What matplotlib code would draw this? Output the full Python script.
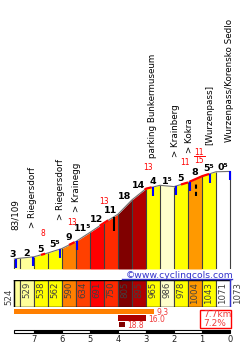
import numpy as np
import matplotlib.pyplot as plt
from matplotlib.patches import Rectangle
from matplotlib.lines import Line2D
from matplotlib.transforms import offset_copy

# profile: distance to the top (km) and altitude (m)
dist = [7.7, 7.5, 7.0, 6.5, 6.0, 5.5, 5.0, 4.5, 4.0, 3.5, 3.0, 2.5, 2.0, 1.5, 1.0, 0.5, 0.0]
alt = [524, 529, 538, 562, 590, 634, 691, 750, 805, 895, 965, 986, 978, 1004, 1043, 1071, 1073]
grad_labels = ["3", "2", "5", "5⁵", "9", "11⁵", "12", "11", "18", "14", "4", "1⁵", "5", "8", "5⁵", "0⁵"]
seg_colors = ["#FFFF99", "#FFFF99", "#FFFF00", "#FFFF00", "#FF8000", "#FF4000", "#FF0000", "#FF2A00",
              "#800000", "#B00000", "#FFFF00", "#FFFFCC", "#FFFF00", "#FF9900", "#FFFF00", "#FFFFFF"]

# places along the climb
places = ["83/109", "> Riegersdorf", "> Riegersdorf", "> Krainegg", "parking Bunkermuseum",
          "> Krainberg", "> Kokra", "[Wurzenpass]", "Wurzenpass/Korensko Sedlo"]
place_km = [7.65, 7.05, 6.07, 5.47, 2.75, 1.94, 1.43, 0.71, 0.0]

# steepest 100 m spots
steep_from = [6.75, 5.75, 4.65, 3.05, 1.75, 1.45]
steep_to = [6.6, 5.55, 4.35, 2.8, 1.5, 0.75]
steep_max = ["8", "13", "13", "13", "11", "11/15"]

# steepest 5 km / 1 km / 200 m
best_from = [7.7, 4.0, 3.95]
best_len = [5.0, 1.0, 0.2]
best_grad = [9.3, 16.0, 18.8]
best_colors = ["#FF7F00", "#AA0000", "#800000"]

total_km = 7.7
avg_grad = 7.2
km_marks = [7, 6, 5, 4, 3, 2, 1, 0]

W, H = 245, 347
XLIM = (8.214, -0.536)
base = 461.3
m_per_px = 6.27

fig = plt.figure(figsize=(W / 100, H / 100), dpi=100)
fig.patch.set_facecolor("white")

# ---------- profile ----------
ax = fig.add_axes([0, 78 / H, 1, 269 / H])
ax.set_xlim(*XLIM)
ax.set_ylim(base, base + 269 * m_per_px)
ax.axis("off")

d_inc = dist[::-1]
a_inc = alt[::-1]


def elev(k):
    return np.interp(k, d_inc, a_inc)


for i in range(len(dist) - 1):
    ax.fill_between([dist[i], dist[i + 1]], [alt[i], alt[i + 1]], base,
                    color=seg_colors[i], lw=0)
ax.vlines(dist, base, alt, color="#404040", lw=0.8)
ax.plot(dist, alt, color="#707070", lw=0.8)

for i, lab in enumerate(grad_labels):
    ax.annotate(lab, xy=(dist[i + 1] + 0.25, max(alt[i], alt[i + 1])), xytext=(0, 1),
                textcoords="offset pixels", ha="center", va="baseline",
                fontsize=6.8, fontweight="bold", color="black",
                family=["DejaVu Sans"])

# steep spots
for a, b, lab in zip(steep_from, steep_to, steep_max):
    xs = np.linspace(a, b, 10)
    ax.plot(xs, elev(xs), color="#FF0000", lw=1.6, solid_capstyle="butt")
    mid = (a + b) / 2
    e = elev(mid)
    if "/" in lab:
        top, bot = lab.split("/")
        ax.annotate(top, xy=(mid, e), xytext=(0, 25), textcoords="offset pixels",
                    ha="center", va="center", fontsize=5.5, color="#FF0000")
        ax.annotate(bot, xy=(mid, e), xytext=(0, 17), textcoords="offset pixels",
                    ha="center", va="center", fontsize=5.5, color="#FF0000")
        tr = offset_copy(ax.transData, fig=fig, x=0, y=21, units="dots")
        ax.plot([mid + 0.2, mid - 0.2], [e, e], transform=tr, color="#FF0000", lw=0.7)
    else:
        ax.annotate(lab, xy=(mid, e), xytext=(0, 21), textcoords="offset pixels",
                    ha="center", va="center", fontsize=5.5, color="#FF0000")

# place markers and names
for k, name in zip(place_km, places):
    e = elev(k)
    ax.vlines(k, e - 9 * m_per_px, e, color="#0000FF", lw=1.5)
    ax.annotate(name, xy=(k, e), xytext=(0, 29), textcoords="offset pixels",
                rotation=90, ha="center", va="bottom", fontsize=6.3, color="black")

# other markers
e = elev(4.15)
ax.vlines(4.15, e - 14 * m_per_px, e, color="black", lw=1.5)
e = elev(1.2)
ax.vlines(1.2, e - 17 * m_per_px, e - 4 * m_per_px, color="black", lw=1.5,
          linestyles=(0, (2, 1.5)))

# ---------- altitude strip ----------
axs = fig.add_axes([0, 40 / H, 1, 27 / H])
axs.set_xlim(*XLIM)
axs.set_ylim(0, 1)
axs.axis("off")
for i in range(len(dist) - 1):
    axs.bar((dist[i] + dist[i + 1]) / 2, 1, width=dist[i] - dist[i + 1],
            color=seg_colors[i], edgecolor="#404040", lw=0.8)
    if i > 0:
        axs.text((dist[i] + dist[i + 1]) / 2, 0.94, str(alt[i]), rotation=90,
                 ha="center", va="top", fontsize=6.2, color="#404040")
axs.plot([dist[0], dist[-1]], [1, 1], color="black", lw=1.0)
axs.plot([dist[0], dist[-1]], [0, 0], color="black", lw=1.0)
axs.plot([dist[0], dist[0]], [0, 1], color="black", lw=1.0)
axs.plot([dist[-1], dist[-1]], [0, 1], color="#3333CC", lw=1.0)
axs.annotate(str(alt[0]), xy=(dist[0], 0), xytext=(-6, 2), textcoords="offset pixels",
             rotation=90, ha="center", va="bottom", fontsize=6.2, color="#404040")
axs.annotate(str(alt[-1]), xy=(dist[-1], 1), xytext=(8, -2), textcoords="offset pixels",
             rotation=90, ha="center", va="top", fontsize=6.2, color="#404040")

fig.text(126 / W, 1 - 275 / H, "©www.cyclingcols.com", ha="left", va="center",
         fontsize=6.7, color="#3333CC")
fig.add_artist(Line2D([122 / W, 232 / W], [1 - 279 / H, 1 - 279 / H],
                      color="#3333CC", lw=1.0, transform=fig.transFigure))

# ---------- steepest parts ----------
axb = fig.add_axes([0, 19 / H, 1, 20 / H])
axb.set_xlim(*XLIM)
axb.set_ylim(2.55, -0.55)
axb.axis("off")
rows = np.arange(len(best_grad))
axb.barh(rows, [-l for l in best_len], left=best_from, height=0.8, color=best_colors)
for r, s, l, g in zip(rows, best_from, best_len, best_grad):
    axb.annotate(f"{g:.1f}", xy=(s - l, r), xytext=(2, 0.5 - r * 0.5), textcoords="offset pixels",
                 ha="left", va="center_baseline", fontsize=5.5, color="#F03C3C")

fig.add_artist(Rectangle((200 / W, 1 - 328 / H), 31 / W, 18 / H, fill=False,
                         edgecolor="#FF0000", lw=1.0, transform=fig.transFigure))
fig.text(203 / W, 1 - 319 / H, f"{total_km}km\n{avg_grad}%", ha="left", va="center",
         fontsize=6.5, color="#F03C3C", linespacing=1.0)

# ---------- km scale ----------
axk = fig.add_axes([0, 0, 1, 18 / H])
axk.set_xlim(*XLIM)
axk.set_ylim(18, 0)
axk.axis("off")
edges = [dist[0]] + km_marks
for i in range(len(edges) - 1):
    axk.barh(2.7, edges[i + 1] - edges[i], left=edges[i], height=3,
             color="white" if i % 2 == 0 else "black", edgecolor="black", lw=0.8)
for k in km_marks:
    axk.text(k, 11, str(k), ha="center", va="center", fontsize=6, color="#222222")

fig.savefig("out.png", dpi=100)
